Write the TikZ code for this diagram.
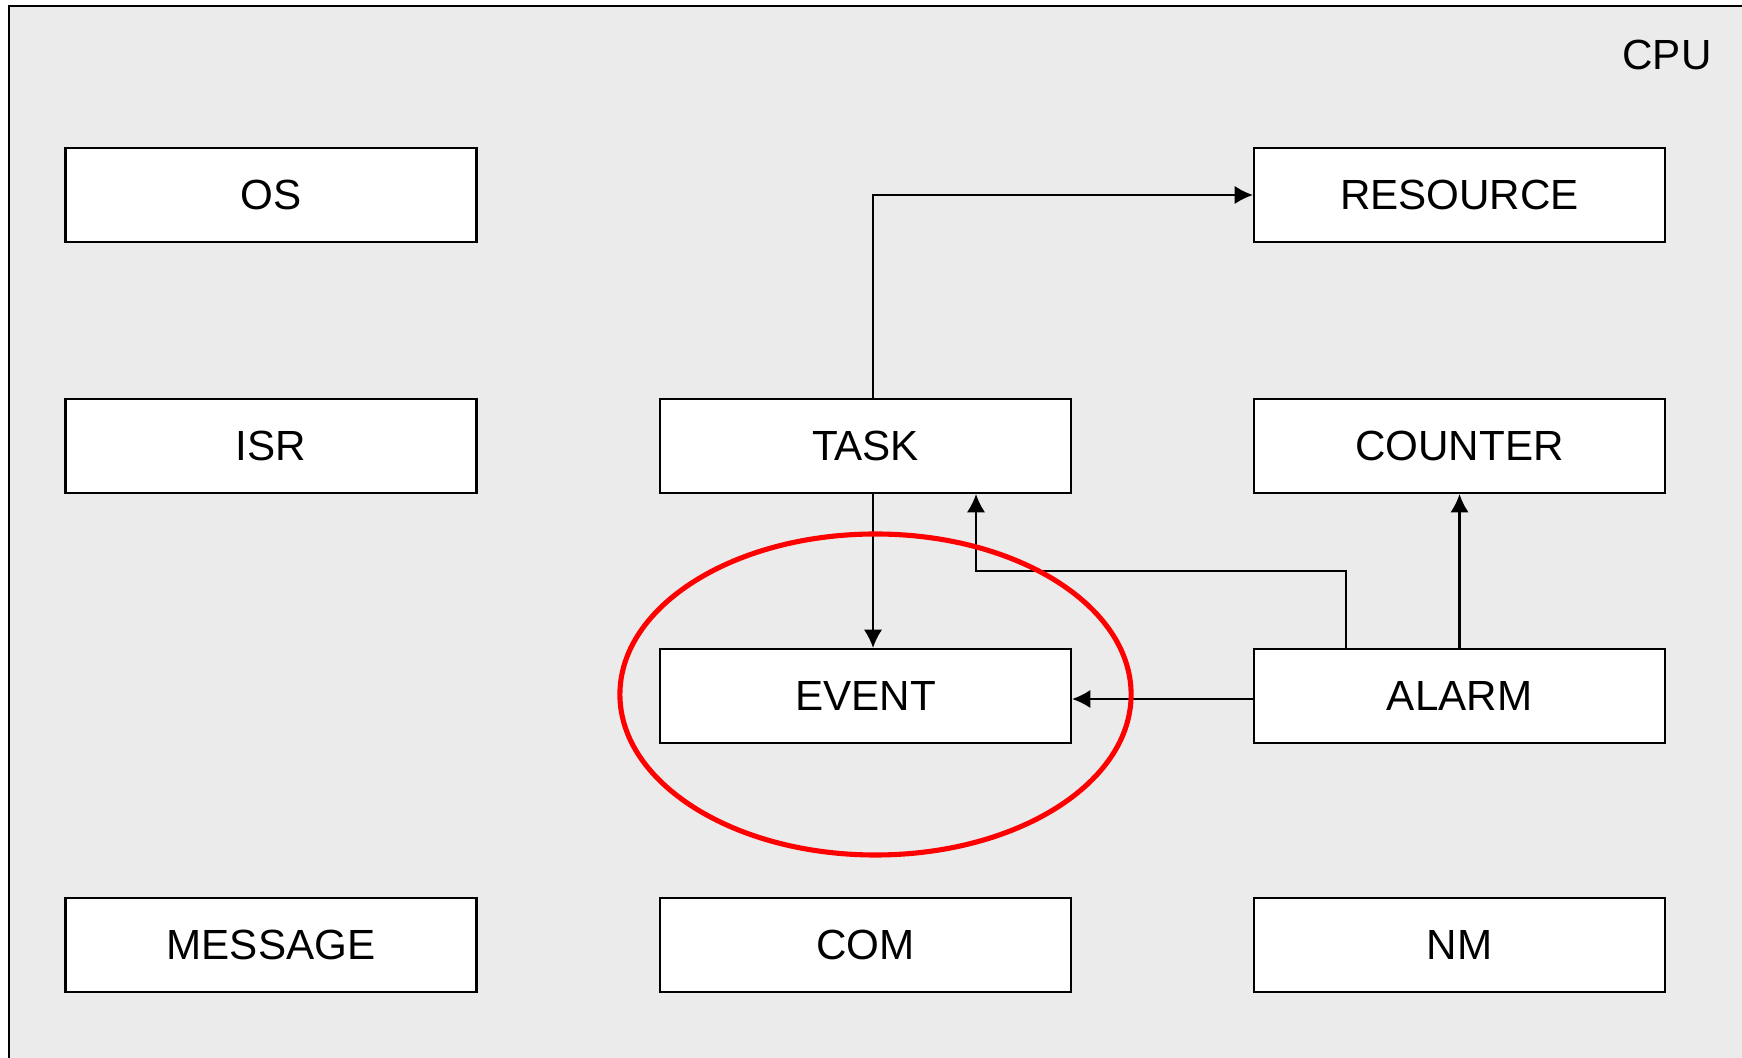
\documentclass[tikz,border=0pt]{standalone}
\usepackage{fontspec}
\setmainfont{Liberation Sans}
\usepackage{xcolor}
\usepackage{tikz}
\usetikzlibrary{calc}
\usetikzlibrary{arrows.meta}
\usetikzlibrary{positioning}

\definecolor{cpugray}{RGB}{235,235,235}

\begin{document}
\begin{tikzpicture}
    \tikzstyle{every node}=[font=\fontsize{12}{14}\selectfont]
    \tikzstyle{module}=[draw=black,fill=white,line width=0.6pt,minimum height=0.94cm,minimum width=4.11cm,inner sep=0pt]
    \tikzstyle{link}=[draw=black,line width=0.6pt,-{Latex[length=5.2pt,width=5.2pt]}]

   \useasboundingbox (0,0) rectangle (17.42,10.57);

   % cpu frame, runs off the right and bottom edge
   \begin{scope}
     \clip (0,0) rectangle (17.42,10.57);
     \draw[fill=cpugray,line width=0.7pt] (0.09,-1) rectangle (18,10.51);
   \end{scope}
   \node (cpu) at (16.67,10.02) {CPU};

   \def\colA{2.71}
   \def\colB{8.655}
   \def\colC{14.595}

   \node[module] (os) at (\colA,8.62) {OS};
   \node[module] (isr) at (\colA,6.11) {ISR};
   \node[module] (message) at (\colA,1.12) {MESSAGE};

   \node[module] (task) at (\colB,6.11) {TASK};
   \node[module] (event) at (\colB,3.61) {EVENT};
   \node[module] (com) at (\colB,1.12) {COM};

   \node[module] (resource) at (\colC,8.62) {RESOURCE};
   \node[module] (counter) at (\colC,6.11) {COUNTER};
   \node[module] (alarm) at (\colC,3.61) {ALARM};
   \node[module] (nm) at (\colC,1.12) {NM};

   \def\toff{0.075cm}

   \draw[link] ([xshift=\toff]task.north) |- (resource.west);
   \draw[link] ([xshift=\toff]task.south) -- ([xshift=\toff]event.north);
   \draw[link] ([xshift=-1.135cm]alarm.north) -- ++(0,0.77) -| ([xshift=1.105cm]task.south);
   \draw[link] (alarm.north) -- (counter.south);
   \draw[link] ([yshift=-0.03cm]alarm.west) -- ([yshift=-0.03cm]event.east);

   % highlight
   \draw[red,line width=1.45pt] (8.755,3.625) ellipse (2.556 and 1.605);

\end{tikzpicture}
\end{document}
